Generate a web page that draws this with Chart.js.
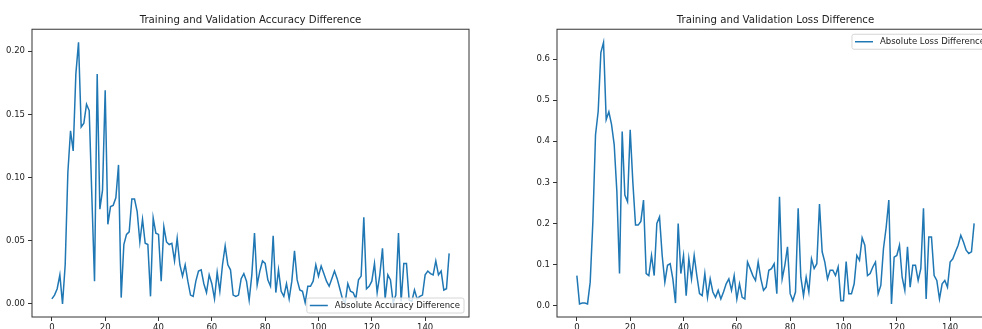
<!DOCTYPE html>
<html>
<head>
<meta charset="utf-8">
<script src="https://cdn.jsdelivr.net/npm/chart.js@4"></script>
<style>
  html, body { margin: 0; padding: 0; background: #fff; }
  #wrap { position: relative; width: 982px; height: 329px; overflow: hidden; }
  #wrap canvas { position: absolute; top: 0; }
  #acc { left: 0; }
  #loss { left: 525px; }
</style>
</head>
<body>
<div id="wrap">
  <canvas id="acc" width="491" height="329"></canvas>
  <canvas id="loss" width="491" height="329"></canvas>
</div>
<script>
// epochs 0..149
var epochs = Array.from({ length: 150 }, function (_, i) { return i; });

var accDiff = [
  0.004, 0.007, 0.012, 0.023, 0.000, 0.031, 0.104, 0.137, 0.121, 0.182,
  0.207, 0.140, 0.143, 0.158, 0.153, 0.085, 0.018, 0.182, 0.075, 0.090,
  0.169, 0.063, 0.077, 0.078, 0.084, 0.110, 0.005, 0.047, 0.055, 0.057,
  0.083, 0.083, 0.073, 0.049, 0.067, 0.048, 0.047, 0.006, 0.068, 0.056,
  0.055, 0.018, 0.061, 0.049, 0.047, 0.048, 0.034, 0.052, 0.031, 0.022,
  0.031, 0.018, 0.007, 0.006, 0.018, 0.026, 0.027, 0.016, 0.009, 0.023,
  0.016, 0.004, 0.025, 0.010, 0.031, 0.046, 0.031, 0.027, 0.007, 0.006,
  0.007, 0.020, 0.024, 0.018, 0.003, 0.023, 0.056, 0.015, 0.026, 0.034,
  0.032, 0.019, 0.014, 0.054, 0.009, 0.027, 0.010, 0.006, 0.016, 0.004,
  0.018, 0.042, 0.019, 0.011, 0.010, 0.001, 0.014, 0.014, 0.018, 0.031,
  0.022, 0.030, 0.024, 0.018, 0.014, 0.020, 0.026, 0.020, 0.012, 0.004,
  0.001, 0.016, 0.010, 0.009, 0.004, 0.019, 0.022, 0.0685, 0.012, 0.014,
  0.018, 0.032, 0.009, 0.023, 0.044, 0.004, 0.023, 0.019, 0.001, 0.007,
  0.056, 0.002, 0.032, 0.032, 0.003, 0.002, 0.011, 0.004, 0.006, 0.007,
  0.023, 0.026, 0.024, 0.023, 0.034, 0.023, 0.026, 0.011, 0.012, 0.040
];

var lossDiff = [
  0.073, 0.004, 0.006, 0.006, 0.004, 0.057, 0.204, 0.416, 0.473, 0.616,
  0.641, 0.453, 0.472, 0.441, 0.392, 0.278, 0.078, 0.424, 0.269, 0.253,
  0.428, 0.300, 0.196, 0.196, 0.205, 0.257, 0.078, 0.073, 0.122, 0.073,
  0.200, 0.216, 0.122, 0.057, 0.098, 0.102, 0.065, 0.006, 0.200, 0.078,
  0.122, 0.024, 0.114, 0.065, 0.122, 0.073, 0.029, 0.024, 0.078, 0.020,
  0.065, 0.033, 0.020, 0.037, 0.016, 0.033, 0.053, 0.065, 0.037, 0.073,
  0.016, 0.053, 0.020, 0.016, 0.106, 0.090, 0.073, 0.061, 0.106, 0.065,
  0.037, 0.045, 0.086, 0.090, 0.102, 0.029, 0.265, 0.065, 0.098, 0.143,
  0.029, 0.012, 0.033, 0.237, 0.069, 0.024, 0.069, 0.033, 0.114, 0.090,
  0.102, 0.247, 0.131, 0.106, 0.065, 0.086, 0.086, 0.073, 0.094, 0.012,
  0.012, 0.107, 0.029, 0.029, 0.053, 0.122, 0.110, 0.165, 0.147, 0.073,
  0.078, 0.094, 0.106, 0.029, 0.049, 0.139, 0.190, 0.257, 0.004, 0.118,
  0.122, 0.147, 0.069, 0.037, 0.143, 0.045, 0.098, 0.098, 0.061, 0.090,
  0.237, 0.016, 0.167, 0.167, 0.073, 0.061, 0.016, 0.053, 0.061, 0.045,
  0.106, 0.114, 0.131, 0.147, 0.171, 0.155, 0.135, 0.127, 0.131, 0.200
];

var xTicks = [0, 20, 40, 60, 80, 100, 120, 140];
var accTicks = [0.00, 0.05, 0.10, 0.15, 0.20];
var lossTicks = [0.0, 0.1, 0.2, 0.3, 0.4, 0.5, 0.6];

var lineColor = '#1f77b4';
var inkColor = '#222';
var fontFamily = '"DejaVu Sans", sans-serif';

// matplotlib-style full frame plus a legend box inside the axes
var frameAndLegend = {
  id: 'frameAndLegend',
  afterDraw: function (chart, args, opts) {
    var ctx = chart.ctx;
    var a = chart.chartArea;
    ctx.save();
    ctx.strokeStyle = '#333';
    ctx.lineWidth = 1;
    ctx.strokeRect(a.left, a.top, a.right - a.left, a.bottom - a.top);

    var ds = chart.data.datasets[0];
    ctx.font = '8.5px ' + fontFamily;
    var tw = ctx.measureText(ds.label).width;
    var w = tw + 32;
    var h = 15;
    var x = a.right - 5 - w;
    var y = opts.place === 'upper' ? a.top + 5 : a.bottom - 4 - h;
    ctx.beginPath();
    ctx.roundRect(x, y, w, h, 2);
    ctx.fillStyle = 'rgba(255,255,255,0.8)';
    ctx.fill();
    ctx.strokeStyle = '#d6d6d6';
    ctx.stroke();

    ctx.beginPath();
    ctx.moveTo(x + 3, y + h / 2);
    ctx.lineTo(x + 21, y + h / 2);
    ctx.strokeStyle = ds.borderColor;
    ctx.lineWidth = 1.5;
    ctx.stroke();

    ctx.fillStyle = inkColor;
    ctx.textBaseline = 'middle';
    ctx.textAlign = 'left';
    ctx.fillText(ds.label, x + 28, y + h / 2 + 0.5);
    ctx.restore();
  }
};

function makeChart(id, title, label, values, yTicks, decimals, place) {
  var lo = Math.min.apply(null, values);
  var hi = Math.max.apply(null, values);
  var yPad = (hi - lo) * 0.05;
  var xPad = (epochs[epochs.length - 1] - epochs[0]) * 0.05;
  var tickFont = { family: fontFamily, size: 8.5 };

  return new Chart(document.getElementById(id), {
    type: 'line',
    data: {
      datasets: [{
        label: label,
        data: values.map(function (v, i) { return { x: epochs[i], y: v }; }),
        borderColor: lineColor,
        borderWidth: 1.5,
        pointRadius: 0,
        tension: 0,
        fill: false
      }]
    },
    options: {
      responsive: false,
      animation: false,
      layout: { padding: { left: 0, right: 22, top: 0, bottom: 0 } },
      scales: {
        x: {
          type: 'linear',
          min: epochs[0] - xPad,
          max: epochs[epochs.length - 1] + xPad,
          afterBuildTicks: function (s) { s.ticks = xTicks.map(function (v) { return { value: v }; }); },
          afterFit: function (s) { s.height = 12; },
          border: { display: false },
          grid: { drawOnChartArea: false, drawTicks: true, tickLength: 4, tickColor: '#333', tickWidth: 1 },
          ticks: { color: inkColor, font: tickFont, padding: 2, maxRotation: 0, autoSkip: false,
            callback: function (v) { return String(v); } }
        },
        y: {
          min: lo - yPad,
          max: hi + yPad,
          afterBuildTicks: function (s) { s.ticks = yTicks.map(function (v) { return { value: v }; }); },
          afterFit: function (s) { s.width = 32; },
          border: { display: false },
          grid: { drawOnChartArea: false, drawTicks: true, tickLength: 4, tickColor: '#333', tickWidth: 1 },
          ticks: { color: inkColor, font: tickFont, padding: 3,
            callback: function (v) { return Number(v).toFixed(decimals); } }
        }
      },
      plugins: {
        legend: { display: false },
        tooltip: { enabled: false },
        title: {
          display: true,
          text: title,
          fullSize: false,
          color: inkColor,
          font: { family: fontFamily, size: 10.2, weight: 'normal', lineHeight: 1.2 },
          padding: { top: 14, bottom: 3 }
        },
        frameAndLegend: { place: place }
      }
    },
    plugins: [frameAndLegend]
  });
}

makeChart('acc', 'Training and Validation Accuracy Difference', 'Absolute Accuracy Difference',
  accDiff, accTicks, 2, 'lower');
makeChart('loss', 'Training and Validation Loss Difference', 'Absolute Loss Difference',
  lossDiff, lossTicks, 1, 'upper');
</script>
</body>
</html>
